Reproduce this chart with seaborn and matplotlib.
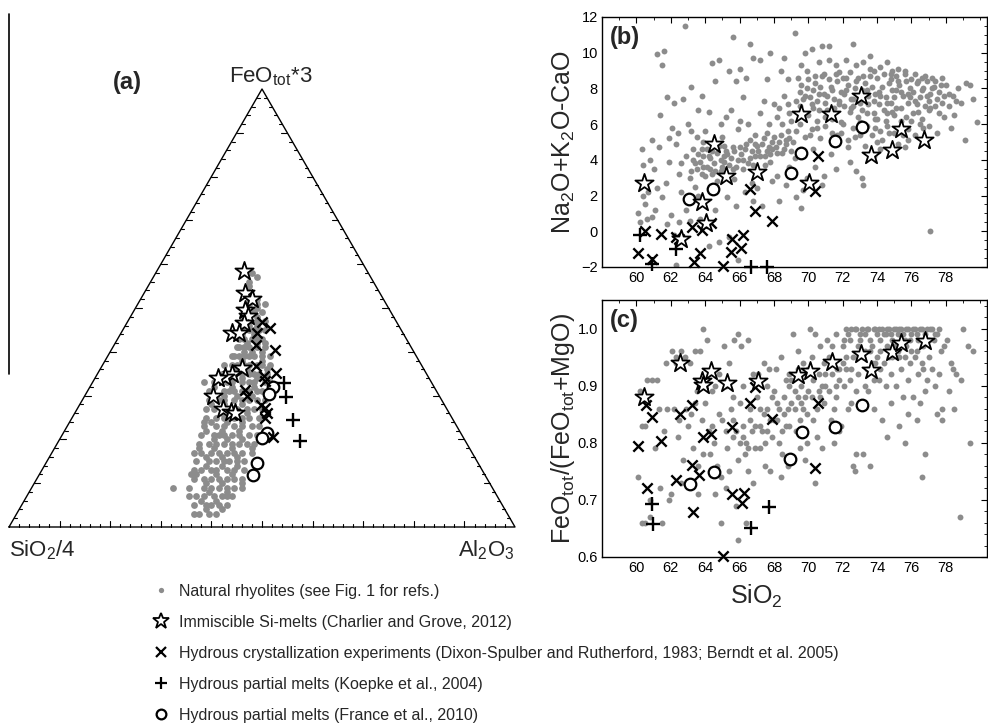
import numpy as np
import pandas as pd
import matplotlib
matplotlib.use("Agg")
import matplotlib.pyplot as plt
import seaborn as sns
from matplotlib.lines import Line2D
from matplotlib.ticker import MultipleLocator, FormatStrFormatter

# ---------------- (a) ternary data: (FeOtot*3 %, Al2O3 %), SiO2/4 = remainder ----------------
a_nat = [(58,19),(56,19.5),(55,20),(57,20.5),(54,20),(53,21),(52,21.5),(51,22),(50,22.5),(52,23),(50,24),
 (49,22),(48,23),(47,24),(46,24.5),(45,25),(48,25),(46,26),(45,27),(47,22.5),(49,24),
 (44,24),(43,25),(42,26),(41,27),(40,28),(44,26.5),(42,28),(41,25),(40,26.5),(43,27.5),(40,30),(42,29.5),
 (39,26),(38,27),(37,28),(36,29),(35,30),(39,29),(37,30.5),(36,27),(35,32),(38,31),(36,33),(39,24.5),(37,25.5),
 (34,25),(33,26.5),(32,28),(31,29),(30,30),(34,29),(33,31),(32,32.5),(31,27),(30,33),(34,32),(32,24.5),(31,34.5),(30,27.5),(33,22),
 (29,27),(28,28.5),(27,30),(26,31),(25,32),(29,30),(28,32),(27,33.5),(26,29),(25,35),(29,33),(27,27),(26,34),(25,28.5),(28,26),
 (24,28),(23,29.5),(22,31),(21,32),(20,33),(24,31),(23,33),(22,34.5),(21,30),(20,36),(24,34),(22,28),(21,35),(20,30.5),(23,36.5),(24,26.5),
 (19,30),(18,31.5),(17,33),(16,34),(15,35),(19,33),(18,35),(17,36),(16,31),(15,37.5),(19,36),(17,29.5),(16,37),(18,28.5),(15,32),
 (14,32),(13,33.5),(12,35),(11,36),(10,37),(14,35),(13,36.5),(12,31),(11,39),(10,34),(14,38),(12,38),(13,30),(11,33),
 (9,34),(8,35.5),(7,37),(6,38),(5,39),(9,37),(8,39),(7,33.5),(6,35),(5,36.5),(9,40),(7,40.5),
 (4,37),(3,38),(4,40),(3,36),(12,30),(7,32),(10,41),(18,39),(9,28),
 (51,23.5),(51,25),(49,23),(49,25.5),(47,23.5),(47,25.5),(47,27),(45,23.5),(45,26),(45,28),
 (43,24),(43,26.5),(43,28.5),(41,24.5),(41,26),(41,28.5),(41,30),
 (39,25),(39,27),(39,28),(39,30.5),(39,32),(37,24),(37,26.5),(37,29),(37,31.5),(37,33),
 (35,24.5),(35,27),(35,28.5),(35,31),(35,33.5),(33,24),(33,27.5),(33,29.5),(33,32),(33,34),(33,35),
 (31,24),(31,28),(31,30.5),(31,32),(31,33.5),(31,36),(29,25),(29,28),(29,31.5),(29,34.5),(29,36),
 (27,25.5),(27,28.5),(27,31.5),(27,35),(27,36.5),(25,26.5),(25,30),(25,33.5),(25,37),
 (23,27),(23,31),(23,34.5),(23,38),(21,27.5),(21,31),(21,33.5),(21,37),(21,38.5),
 (19,28),(19,31.5),(19,34.5),(19,37.5),(19,39),(17,28),(17,31.5),(17,34.5),(17,37.5),(17,39.5),
 (15,29.5),(15,33.5),(15,36),(15,39),(13,31.5),(13,34.5),(13,38),(13,40),
 (11,31),(11,34.5),(11,37.5),(11,40.5),(9,31),(9,35.5),(9,38.5),(9,41.5),
 (7,35),(7,38.5),(7,39.5),(5,34),(5,37.5),(5,40.5),(3,35),(3,39.5)]
a_nat_fe = [p[0] for p in a_nat]
a_nat_al = [p[1] for p in a_nat]
a_star_fe = [58.5, 53.5, 52.1, 49.5, 48.2, 46.6, 44.2, 44.4, 36.2, 34.9, 34.3, 34.0, 30.0, 26.9, 26.3, 26.1]
a_star_al = [17.1, 19.9, 21.9, 21.8, 23.2, 23.2, 21.9, 23.3, 27.9, 26.7, 25.5, 24.4, 25.3, 28.8, 30.8, 31.7]
a_x_fe = [46.9, 45.5, 44.4, 41.6, 40.4, 36.8, 35.1, 34.5, 33.3, 31.3, 30.0, 27.9, 27.1, 26.0, 24.8, 20.5]
a_x_al = [26.5, 28.8, 26.9, 28.0, 32.4, 30.4, 35.3, 33.1, 33.9, 31.0, 32.0, 35.8, 37.1, 38.0, 38.2, 41.9]
a_p_fe = [32.9, 29.7, 24.4, 19.6]
a_p_al = [37.9, 39.9, 43.9, 47.7]
a_o_fe = [31.9, 30.4, 21.4, 20.3, 14.7, 11.9]
a_o_al = [36.3, 36.2, 40.2, 39.8, 41.6, 42.2]

# ---------------- (b) Na2O+K2O-CaO vs SiO2 ----------------
b_nat = [(60.1,1.0),(60.3,4.6),(60.4,3.7),(60.2,0.5),(60.6,0.7),(60.5,1.5),(60.8,4.0),(60.7,2.2),(60.9,5.1),(61.0,3.5),(60.9,0.8),(60.4,2.0),
 (61.2,9.9),(61.6,10.1),(61.5,9.3),(61.4,6.5),(61.8,7.5),(61.3,4.7),(61.7,2.7),(61.1,1.2),(61.9,3.9),(61.5,1.9),(61.8,0.4),(61.2,2.4),(61.9,5.2),
 (62.1,5.8),(62.3,4.9),(62.5,3.2),(62.2,7.2),(62.7,7.4),(62.4,5.5),(62.8,11.5),(62.6,2.2),(62.9,4.2),(62.0,0.9),(62.5,0.5),(62.2,-0.2),(62.9,1.2),(62.6,3.8),(62.3,-1.9),
 (63.1,3.0),(63.3,4.0),(63.5,3.5),(63.7,3.9),(63.9,4.2),(63.2,5.6),(63.6,6.8),(63.8,7.6),(63.4,2.5),(63.0,6.0),(63.6,2.0),(63.9,5.0),(63.2,8.1),(63.5,5.3),(63.8,3.2),(63.1,0.6),(63.7,0.7),(63.3,4.6),
 (64.1,3.6),(64.3,4.1),(64.5,3.8),(64.7,4.4),(64.9,4.0),(64.2,6.7),(64.6,8.4),(64.4,9.4),(64.8,9.6),(64.0,5.6),(64.5,5.0),(64.7,2.8),(64.9,6.0),(64.3,2.4),(64.6,1.2),(64.2,-0.8),(64.8,-0.6),(64.4,3.2),(64.9,3.4),(64.1,4.6),
 (65.1,3.9),(65.3,4.3),(65.5,4.1),(65.7,4.5),(65.9,4.0),(65.2,6.4),(65.4,9.0),(65.6,10.9),(65.8,8.4),(65.0,5.3),(65.5,6.8),(65.7,2.9),(65.9,5.7),(65.3,1.9),(65.8,1.4),(65.1,4.8),(65.6,3.5),(65.4,-0.3),(65.9,-1.6),
 (66.1,4.3),(66.3,4.6),(66.5,3.8),(66.7,4.5),(66.9,4.2),(66.2,7.5),(66.6,10.5),(66.8,9.7),(66.4,8.6),(66.0,6.2),(66.5,6.0),(66.7,2.7),(66.9,5.4),(66.3,2.2),(66.8,1.7),(66.2,3.5),(66.6,5.1),(66.0,9.1),
 (67.1,4.5),(67.3,4.9),(67.5,4.2),(67.7,4.7),(67.9,5.0),(67.2,6.6),(67.6,8.5),(67.8,10.0),(67.4,7.3),(67.0,2.4),(67.5,3.7),(67.7,6.0),(67.9,2.8),(67.3,1.4),(67.8,3.9),(67.2,9.6),(67.6,5.5),
 (68.1,4.7),(68.3,5.0),(68.5,4.4),(68.7,4.9),(68.9,5.2),(68.2,6.4),(68.6,7.6),(68.8,8.5),(68.4,9.0),(68.0,7.1),(68.5,6.0),(68.7,2.6),(68.9,3.6),(68.3,1.7),(68.8,7.1),(68.2,3.1),(68.6,9.7),
 (69.1,5.0),(69.3,7.3),(69.5,7.8),(69.7,7.4),(69.9,8.0),(69.2,11.1),(69.6,9.3),(69.8,10.0),(69.4,8.6),(69.0,6.2),(69.5,6.0),(69.7,2.3),(69.9,3.0),(69.3,1.9),(69.8,5.3),(69.2,4.1),(69.6,1.3),(69.9,9.0),
 (70.1,7.5),(70.3,7.9),(70.5,7.3),(70.7,8.1),(70.9,7.7),(70.2,10.2),(70.6,9.5),(70.8,10.4),(70.4,8.7),(70.0,6.5),(70.5,6.2),(70.7,5.2),(70.9,3.1),(70.3,4.6),(70.8,2.6),(70.2,5.7),(70.6,6.8),(70.9,8.8),(70.4,3.6),
 (71.1,7.6),(71.3,8.1),(71.5,7.4),(71.7,8.4),(71.9,7.8),(71.2,10.4),(71.6,9.3),(71.8,8.9),(71.4,6.3),(71.0,5.9),(71.5,6.9),(71.7,5.4),(71.9,6.1),(71.3,4.3),(71.8,7.1),(71.2,9.6),(71.6,3.5),
 (72.1,7.7),(72.3,8.2),(72.5,7.4),(72.7,8.0),(72.9,7.6),(72.2,9.6),(72.6,10.5),(72.8,9.3),(72.4,6.7),(72.0,6.0),(72.5,6.9),(72.7,5.3),(72.9,6.4),(72.3,4.7),(72.8,3.4),(72.2,8.6),(72.6,7.0),(72.9,8.6),(72.4,3.9),
 (73.1,7.9),(73.3,8.3),(73.5,7.6),(73.7,8.1),(73.9,7.7),(73.2,9.5),(73.6,9.8),(73.8,9.0),(73.4,6.6),(73.0,6.1),(73.5,7.1),(73.7,5.4),(73.9,6.3),(73.3,4.8),(73.8,4.2),(73.2,2.6),(73.6,8.7),(73.9,5.8),(73.1,3.0),
 (74.1,7.8),(74.3,8.1),(74.5,7.5),(74.7,8.3),(74.9,7.9),(74.2,9.2),(74.6,9.5),(74.8,8.8),(74.4,6.8),(74.0,6.3),(74.5,6.2),(74.7,5.5),(74.9,6.7),(74.3,5.1),(74.8,7.2),(74.2,4.6),(74.6,5.9),(74.9,9.0),
 (75.1,7.9),(75.3,8.2),(75.5,7.6),(75.7,8.4),(75.9,8.0),(75.2,9.1),(75.6,8.8),(75.8,7.2),(75.4,6.9),(75.0,6.5),(75.5,5.4),(75.7,6.4),(75.9,7.5),(75.3,5.8),(75.8,5.1),(75.1,8.7),(75.6,4.7),
 (76.1,7.8),(76.3,8.3),(76.5,7.5),(76.7,8.0),(76.9,7.6),(76.2,8.8),(76.6,8.6),(76.8,7.0),(76.4,6.7),(76.0,6.2),(76.5,6.0),(76.7,5.8),(76.9,8.4),(76.3,7.1),(77.1,0.0),
 (77.1,7.7),(77.3,8.1),(77.5,7.4),(77.7,8.2),(77.9,7.6),(77.2,8.6),(77.6,6.6),(77.8,8.6),(77.4,7.0),(77.0,6.8),(77.5,5.5),(77.9,6.4),
 (78.2,7.0),(78.4,7.6),(78.7,8.0),(78.9,7.2),(78.5,6.5),(79.2,8.3),(79.4,8.2),(79.1,5.1),(79.6,7.4),(78.3,5.8),(79.8,6.1),
 (63.2,3.4),(63.4,3.8),(63.6,4.3),(63.9,3.6),(64.0,3.1),(64.2,4.2),(64.4,4.5),(64.6,3.4),(64.8,4.8),(65.0,3.6),(65.2,4.5),(65.4,3.7),
 (65.6,4.7),(65.8,3.6),(66.0,4.7),(66.2,4.0),(66.4,4.9),(66.6,4.1),(66.8,3.7),(67.0,4.8),(67.2,4.2),(67.4,5.2),(67.6,4.5),(67.8,4.3),
 (68.0,5.3),(68.2,4.4),(68.4,5.4),(68.6,4.6),(68.8,5.6),(69.0,4.5),(63.8,4.6),(64.3,3.5),(65.1,4.2),(66.9,4.9),(67.9,4.6),(68.7,5.1),
 (69.5,7.0),(69.6,8.2),(69.8,7.6),(70.0,8.5),(70.2,7.1),(70.4,8.3),(70.6,7.7),(70.8,8.7),(71.0,7.2),(71.2,8.5),(71.4,7.9),(71.6,8.8),
 (71.8,7.3),(72.0,8.6),(72.2,7.9),(72.4,8.9),(72.6,7.4),(72.8,8.4),(73.0,7.2),(73.2,8.7),(73.4,7.9),(73.6,9.1),(73.8,7.3),(74.0,8.6),
 (74.2,7.6),(74.4,8.8),(74.6,7.2),(74.8,8.5),(75.0,7.5),(75.2,8.4),(75.4,7.8),(75.6,9.0),(75.8,7.7),(76.0,8.5),(76.2,7.3),(76.4,8.4),
 (76.6,7.9),(76.8,8.7),(77.0,7.3),(77.2,8.0),(77.4,8.4),(77.6,7.8),(77.8,7.2),(78.0,8.2),(78.2,7.7),(78.6,7.3),(70.3,6.9),(71.1,6.8),
 (72.1,7.0),(73.1,6.8),(74.1,7.1),(75.1,6.9),(76.1,6.6),(77.1,6.9),
 (72.6,5.8),(73.0,5.4),(73.4,5.9),(73.8,6.6),(74.2,5.6),(74.6,6.6),(75.0,5.5),(75.4,6.2),(75.8,5.7),(76.2,5.4),(76.6,6.3),(77.0,5.9),
 (74.0,5.0),(75.2,4.9),(71.9,5.5),(72.3,5.1),(68.3,6.9),(68.9,6.6),(69.3,5.6),(69.7,6.6),(70.1,5.4),(70.5,5.8),(71.0,6.4),(71.4,5.5)]
b_nat_x = [p[0] for p in b_nat]
b_nat_y = [p[1] for p in b_nat]
b_star_x = [60.45, 62.58, 63.8, 64.03, 64.52, 65.2, 67.04, 69.56, 70.05, 71.31, 73.05, 73.63, 74.9, 75.38, 76.74]
b_star_y = [2.73, -0.46, 1.66, 0.48, 4.86, 3.07, 3.32, 6.55, 2.70, 6.55, 7.58, 4.29, 4.57, 5.74, 5.10]
b_x_x = [60.1, 60.5, 60.93, 61.42, 62.33, 62.48, 63.22, 63.36, 63.69, 63.84, 64.32, 65.06, 65.49, 65.59, 66.11, 66.2, 66.61, 66.9, 67.91, 70.59, 70.4]
b_x_y = [-1.21, 0.01, -1.53, -0.18, -0.31, -0.46, 0.25, -1.72, -1.21, 0.06, 0.48, -1.95, -1.16, -0.46, -0.91, -0.22, 2.36, 1.15, 0.59, 4.24, 2.28]
b_p_x = [60.21, 60.89, 62.33, 66.65, 67.62]
b_p_y = [-0.22, -1.82, -0.97, -2.0, -2.0]
b_o_x = [63.06, 64.48, 68.98, 69.6, 71.56, 73.11]
b_o_y = [1.79, 2.36, 3.26, 4.39, 5.05, 5.85]

# ---------------- (c) FeOtot/(FeOtot+MgO) vs SiO2 ----------------
c_nat = [(60.2,0.89),(60.3,0.83),(60.1,0.74),(60.5,0.66),(60.8,0.67),(60.6,0.91),(60.9,0.91),(60.5,0.83),(60.3,0.66),(60.8,0.70),
 (61.2,0.91),(61.5,0.66),(61.1,0.79),(61.6,0.82),(61.3,0.86),(61.8,0.86),(61.4,0.72),(61.7,0.94),(61.9,0.70),
 (62.1,0.96),(62.3,0.95),(62.6,0.96),(62.8,0.95),(62.2,0.86),(62.5,0.84),(62.9,0.86),(62.4,0.81),(62.7,0.77),(62.0,0.71),(62.6,0.73),(62.3,0.94),
 (63.1,0.94),(63.4,0.96),(63.7,0.96),(63.2,0.85),(63.5,0.89),(63.8,0.84),(63.3,0.79),(63.6,0.76),(63.9,0.78),(63.0,0.83),(63.6,0.71),(63.9,1.0),(63.4,0.87),
 (64.1,0.98),(64.4,0.89),(64.6,0.90),(64.2,0.82),(64.5,0.80),(64.8,0.85),(64.3,0.78),(64.7,0.76),(64.9,0.74),(64.0,0.87),(64.6,0.71),(64.9,0.66),(64.4,0.83),(64.8,0.92),
 (65.1,0.97),(65.4,0.94),(65.7,0.98),(65.9,0.99),(65.2,0.90),(65.5,0.86),(65.8,0.82),(65.3,0.79),(65.6,0.81),(65.9,0.77),(65.0,0.84),(65.4,0.75),(65.8,0.69),(65.9,0.63),(65.6,0.88),(65.2,0.72),
 (66.1,0.97),(66.5,0.98),(66.8,0.92),(66.2,0.83),(66.4,0.80),(66.7,0.82),(66.3,0.78),(66.6,0.84),(66.9,0.79),(66.0,0.87),(66.5,0.75),(66.8,0.73),(66.2,0.90),(66.6,0.86),(66.4,0.66),
 (67.1,0.92),(67.4,0.94),(67.7,0.93),(67.2,0.83),(67.5,0.80),(67.8,0.84),(67.3,0.82),(67.6,0.86),(67.9,0.81),(67.0,0.88),(67.5,0.76),(67.8,0.75),(67.2,0.79),(67.6,0.90),(67.4,0.85),
 (68.1,0.93),(68.4,0.95),(68.7,0.91),(68.2,0.84),(68.5,0.82),(68.8,0.86),(68.3,0.80),(68.6,0.88),(68.9,0.83),(68.0,0.89),(68.5,0.78),(68.8,0.76),(68.2,0.87),(68.6,0.85),(68.4,0.74),(68.9,0.90),
 (69.1,0.99),(69.4,0.96),(69.7,0.94),(69.2,0.86),(69.5,0.84),(69.8,0.88),(69.3,0.82),(69.6,0.90),(69.9,0.85),(69.0,0.91),(69.5,0.79),(69.8,0.77),(69.2,0.89),(69.6,0.87),(69.9,0.80),(69.4,0.93),
 (70.1,1.0),(70.4,0.99),(70.7,0.97),(70.2,0.88),(70.5,0.86),(70.8,0.90),(70.3,0.84),(70.6,0.92),(70.9,0.87),(70.0,0.93),(70.5,0.81),(70.8,0.79),(70.2,0.95),(70.6,0.89),(70.4,0.73),(70.9,0.94),
 (71.1,0.98),(71.4,0.97),(71.7,0.93),(71.2,0.89),(71.5,0.86),(71.8,0.91),(71.3,0.84),(71.6,0.88),(71.9,0.83),(71.0,0.92),(71.5,0.80),(71.8,0.82),(71.2,0.95),(71.6,0.90),
 (72.1,0.98),(72.3,0.99),(72.5,1.0),(72.7,1.0),(72.9,0.97),(72.2,0.93),(72.4,0.91),(72.6,0.95),(72.8,0.89),(72.0,0.94),(72.5,0.87),(72.8,0.78),(72.7,0.75),(72.6,0.76),(72.3,0.86),(72.9,0.92),(72.1,0.90),
 (73.1,1.0),(73.3,0.99),(73.5,1.0),(73.7,0.97),(73.9,1.0),(73.2,0.95),(73.4,0.93),(73.6,0.96),(73.8,0.91),(73.0,0.98),(73.5,0.89),(73.8,0.86),(73.2,0.78),(73.6,0.76),(73.3,0.90),(73.9,0.94),
 (74.1,1.0),(74.3,1.0),(74.5,0.99),(74.7,1.0),(74.9,0.98),(74.2,0.96),(74.4,0.94),(74.6,0.97),(74.8,0.92),(74.0,0.95),(74.5,0.90),(74.8,0.87),(74.3,0.84),(74.6,0.81),(74.1,0.91),(74.9,0.95),
 (75.1,1.0),(75.3,1.0),(75.5,0.99),(75.7,1.0),(75.9,0.98),(75.2,0.96),(75.4,0.93),(75.6,0.95),(75.8,0.91),(75.0,0.97),(75.5,0.88),(75.8,0.85),(75.3,0.83),(75.6,0.80),(75.1,0.90),(75.9,0.94),
 (76.1,1.0),(76.3,0.99),(76.5,1.0),(76.7,0.97),(76.9,1.0),(76.2,0.95),(76.4,0.92),(76.6,0.94),(76.8,0.89),(76.0,0.96),(76.5,0.87),(76.8,0.78),(76.3,0.84),(76.6,0.74),(76.1,0.88),(76.9,0.91),
 (77.1,1.0),(77.3,0.98),(77.5,0.99),(77.7,0.96),(77.9,0.97),(77.2,0.93),(77.4,0.90),(77.6,0.92),(77.8,0.86),(77.0,0.95),(77.5,0.85),(77.8,0.84),
 (78.1,0.98),(78.3,0.94),(78.6,0.92),(78.9,0.91),(78.2,0.89),(78.5,0.86),(78.8,0.67),(79.0,1.0),(79.3,0.97),(79.6,0.96),(79.4,0.80),(78.4,0.93),
 (72.2,1.0),(72.4,0.98),(72.8,1.0),(73.0,0.99),(73.4,1.0),(73.6,0.98),(73.8,1.0),(74.0,0.99),(74.2,0.98),(74.4,0.99),(74.6,1.0),(74.8,0.99),
 (75.0,1.0),(75.2,0.99),(75.4,1.0),(75.6,0.98),(75.8,1.0),(76.0,0.99),(76.2,1.0),(76.4,0.98),(76.6,1.0),(76.8,0.99),(77.0,0.98),(77.2,1.0),
 (77.4,0.99),(77.6,1.0),(72.0,0.97),(71.6,0.99),
 (66.2,0.81),(66.5,0.79),(66.9,0.83),(67.2,0.86),(67.6,0.82),(68.0,0.84),(68.3,0.86),(68.7,0.83),(69.0,0.87),(69.4,0.88),(69.7,0.86),
 (70.0,0.89),(70.3,0.91),(70.7,0.88),(71.0,0.90),(71.4,0.92),(71.8,0.93),(72.2,0.95),(72.5,0.93),(72.9,0.95),(73.3,0.96),(73.7,0.94),
 (74.2,0.93),(74.7,0.95),(75.3,0.95),(75.7,0.97),(76.3,0.96),(76.7,0.93),(65.6,0.84),(66.0,0.80),(65.2,0.82),(67.9,0.88),(68.9,0.92)]
c_nat_x = [p[0] for p in c_nat]
c_nat_y = [p[1] for p in c_nat]
c_star_x = [60.45, 62.52, 63.8, 63.88, 64.32, 65.26, 67.1, 69.43, 70.09, 71.37, 73.05, 73.63, 74.9, 75.38, 76.8]
c_star_y = [0.881, 0.940, 0.909, 0.902, 0.925, 0.905, 0.909, 0.918, 0.925, 0.942, 0.956, 0.927, 0.959, 0.974, 0.978]
c_x_x = [60.1, 60.54, 60.64, 60.89, 61.45, 62.29, 62.52, 63.22, 63.26, 63.3, 63.65, 63.88, 64.32, 65.06, 65.55, 65.59, 66.13, 66.27, 66.61, 66.9, 67.91, 70.4, 70.59]
c_x_y = [0.794, 0.866, 0.721, 0.846, 0.803, 0.734, 0.851, 0.866, 0.761, 0.678, 0.743, 0.810, 0.815, 0.602, 0.828, 0.710, 0.695, 0.712, 0.869, 0.898, 0.842, 0.755, 0.870]
c_p_x = [60.89, 60.97, 66.65, 67.72]
c_p_y = [0.693, 0.657, 0.650, 0.688]
c_o_x = [63.12, 64.52, 68.94, 69.66, 71.56, 73.11]
c_o_y = [0.727, 0.749, 0.772, 0.818, 0.827, 0.866]

legend_labels = ["Natural rhyolites (see Fig. 1 for refs.)",
                 "Immiscible Si-melts (Charlier and Grove, 2012)",
                 "Hydrous crystallization experiments (Dixon-Spulber and Rutherford, 1983; Berndt et al. 2005)",
                 "Hydrous partial melts (Koepke et al., 2004)",
                 "Hydrous partial melts (France et al., 2010)"]

# ---------------- style ----------------
sns.set_style("white")
plt.rcParams['font.family'] = ['Liberation Sans', 'DejaVu Sans']
plt.rcParams['mathtext.fontset'] = 'custom'
plt.rcParams['mathtext.rm'] = 'Liberation Sans'
plt.rcParams['mathtext.it'] = 'Liberation Sans:italic'
plt.rcParams['mathtext.bf'] = 'Liberation Sans:bold'

GRAY = '#8c8c8c'
W, H = 988, 725
fig = plt.figure(figsize=(W / 100, H / 100), dpi=100)

def fr(x0, y0, x1, y1):
    return [x0 / W, 1 - y1 / H, (x1 - x0) / W, (y1 - y0) / H]

S3 = np.sqrt(3) / 2

def sym_scatter(ax, x, y, kind, nat_s=18):
    if kind == 'nat':
        sns.scatterplot(x=x, y=y, ax=ax, color=GRAY, s=nat_s, linewidth=0, zorder=2)
    elif kind == 'star':
        sns.scatterplot(x=x, y=y, ax=ax, marker='*', color='white', edgecolor='black',
                        s=190, linewidth=1.3, zorder=5, clip_on=False)
    elif kind == 'x':
        sns.scatterplot(x=x, y=y, ax=ax, marker='x', color='black', s=55, linewidth=1.7,
                        zorder=4, clip_on=False)
    elif kind == 'p':
        sns.scatterplot(x=x, y=y, ax=ax, marker='+', color='black', s=90, linewidth=1.7,
                        zorder=4, clip_on=False)
    elif kind == 'o':
        sns.scatterplot(x=x, y=y, ax=ax, marker='o', color='white', edgecolor='black',
                        s=70, linewidth=1.6, zorder=4, clip_on=False)

# ---------------- (a) ternary ----------------
ax_a = fig.add_axes(fr(9, 89, 515, 527))
ax_a.set_xlim(0, 1)
ax_a.set_ylim(0, S3)
ax_a.axis('off')

def proj(fe, al):
    fe = np.asarray(fe, float) / 100
    al = np.asarray(al, float) / 100
    return al + fe / 2, fe * S3

ax_a.plot([0, 1, 0.5, 0], [0, 0, S3, 0], color='black', lw=1.0, zorder=1, clip_on=False)
for i in range(1, 50):
    f = i / 50
    L = 0.012 if i % 5 == 0 else 0.006
    ax_a.plot([f, f], [0, L], color='black', lw=0.8, clip_on=False)
    ax_a.plot([f / 2, f / 2 + L], [f * S3, f * S3], color='black', lw=0.8, clip_on=False)
    ax_a.plot([1 - f / 2, 1 - f / 2 - L], [f * S3, f * S3], color='black', lw=0.8, clip_on=False)

for fe, al, kind in [(a_nat_fe, a_nat_al, 'nat'), (a_o_fe, a_o_al, 'o'), (a_p_fe, a_p_al, 'p'),
                     (a_x_fe, a_x_al, 'x'), (a_star_fe, a_star_al, 'star')]:
    px, py = proj(fe, al)
    sym_scatter(ax_a, px, py, kind, nat_s=24)

ax_a.text(0.5 + 0.018, S3 + 0.014, r'FeO$_{\mathrm{tot}}$*3', ha='center', va='baseline', fontsize=16)
ax_a.text(0.0, -0.045, r'SiO$_{2}$/4', ha='left', va='center', fontsize=16)
ax_a.text(1.0, -0.045, r'Al$_{2}$O$_{3}$', ha='right', va='center', fontsize=16)
fig.text(113 / W, 1 - 82 / H, '(a)', fontsize=17, fontweight='bold', va='center', ha='left')

# left vertical rule
fig.add_artist(Line2D([9 / W, 9 / W], [1 - 14 / H, 1 - 374 / H], color='black', lw=1.2))

# ---------------- (b) & (c) ----------------
def style_ax(ax):
    for sp in ax.spines.values():
        sp.set_color('black')
        sp.set_linewidth(1.0)
    ax.tick_params(which='both', direction='in', top=True, right=True, colors='black',
                   labelsize=10.5, pad=3)
    ax.tick_params(which='major', length=4, width=0.8)
    ax.tick_params(which='minor', length=2, width=0.6)
    ax.set_xlim(58, 80.4)
    ax.set_xticks(np.arange(60, 79, 2))
    ax.xaxis.set_minor_locator(MultipleLocator(1))

ax_b = fig.add_axes(fr(602, 17, 987, 267))
for x, y, kind in [(b_nat_x, b_nat_y, 'nat'), (b_o_x, b_o_y, 'o'), (b_p_x, b_p_y, 'p'),
                   (b_x_x, b_x_y, 'x'), (b_star_x, b_star_y, 'star')]:
    sym_scatter(ax_b, x, y, kind)
style_ax(ax_b)
ax_b.set_ylim(-2, 12)
ax_b.set_yticks(np.arange(-2, 13, 2))
ax_b.yaxis.set_minor_locator(MultipleLocator(0.5))
ax_b.set_ylabel(r'Na$_2$O+K$_2$O-CaO', fontsize=18)
ax_b.yaxis.set_label_coords(-0.066, 0.5)
ax_b.set_xlabel('')
ax_b.text(0.02, 0.965, '(b)', transform=ax_b.transAxes, fontsize=17, fontweight='bold',
          va='top', ha='left')

ax_c = fig.add_axes(fr(602, 300, 987, 557))
for x, y, kind in [(c_nat_x, c_nat_y, 'nat'), (c_o_x, c_o_y, 'o'), (c_p_x, c_p_y, 'p'),
                   (c_x_x, c_x_y, 'x'), (c_star_x, c_star_y, 'star')]:
    sym_scatter(ax_c, x, y, kind)
style_ax(ax_c)
ax_c.set_ylim(0.6, 1.05)
ax_c.set_yticks([0.6, 0.7, 0.8, 0.9, 1.0])
ax_c.yaxis.set_major_formatter(FormatStrFormatter('%.1f'))
ax_c.yaxis.set_minor_locator(MultipleLocator(0.02))
ax_c.set_ylabel(r'FeO$_{\mathrm{tot}}$/(FeO$_{\mathrm{tot}}$+MgO)', fontsize=18)
ax_c.yaxis.set_label_coords(-0.066, 0.5)
ax_c.set_xlabel(r'SiO$_2$', fontsize=18)
ax_c.xaxis.set_label_coords(0.40, -0.10)
ax_c.text(0.02, 0.965, '(c)', transform=ax_c.transAxes, fontsize=17, fontweight='bold',
          va='top', ha='left')

# ---------------- legend ----------------
handles = [
    Line2D([], [], ls='none', marker='o', color=GRAY, markersize=3.8, markeredgewidth=0),
    Line2D([], [], ls='none', marker='*', markerfacecolor='white', markeredgecolor='black', markersize=12, markeredgewidth=1.3),
    Line2D([], [], ls='none', marker='x', color='black', markersize=6.5, markeredgewidth=1.6),
    Line2D([], [], ls='none', marker='+', color='black', markersize=8.5, markeredgewidth=1.6),
    Line2D([], [], ls='none', marker='o', markerfacecolor='white', markeredgecolor='black', markersize=7, markeredgewidth=1.6),
]
fig.legend(handles, legend_labels, loc='upper left', bbox_to_anchor=(153 / W, 1 - 584 / H),
           frameon=False, fontsize=11.5, handlelength=1.0, handletextpad=0.62,
           labelspacing=1.0, borderpad=0, borderaxespad=0)

fig.savefig('out.png', dpi=100)
